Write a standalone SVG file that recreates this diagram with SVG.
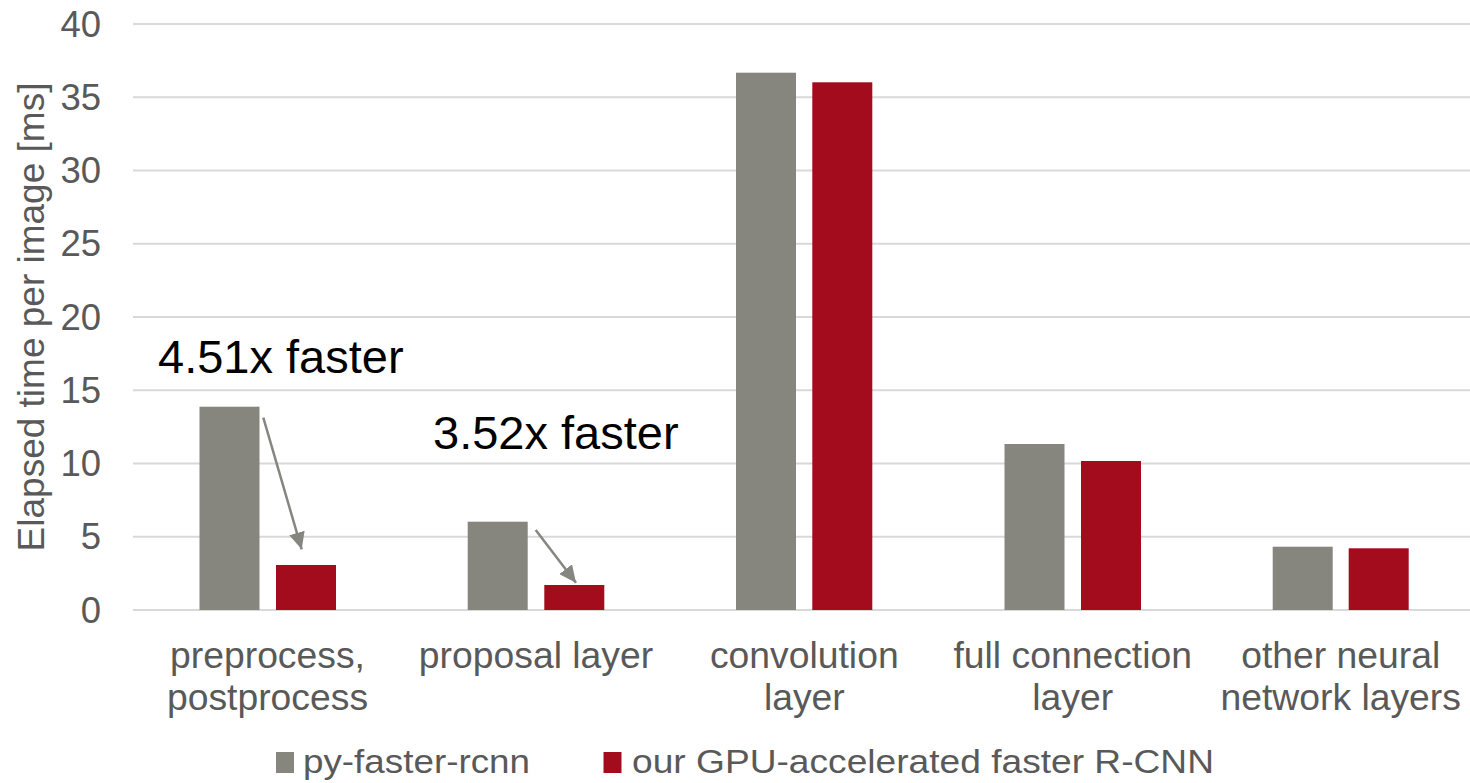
<svg xmlns="http://www.w3.org/2000/svg" width="1470" height="783" viewBox="0 0 1470 783">
<defs>
<marker id="ah" markerUnits="userSpaceOnUse" markerWidth="18" markerHeight="16" refX="17" refY="8" orient="auto">
<path d="M0,0 L17,8 L0,16 Z" fill="#868680"/>
</marker>
<style>
.grid{stroke:#d9d9d9;stroke-width:2}
.tick{font-family:"Liberation Sans",Arial,sans-serif;font-size:36.5px;fill:#595959;text-anchor:end}
.cat{font-family:"Liberation Sans",Arial,sans-serif;font-size:37.3px;fill:#595959;text-anchor:middle}
.ann{font-family:"Liberation Sans",Arial,sans-serif;font-size:47px;fill:#000}
.leg{font-family:"Liberation Sans",Arial,sans-serif;font-size:34px;fill:#595959}
.g{fill:#86867e}
.r{fill:#a30c1c}
.arr{stroke:#868680;stroke-width:2.5;fill:none;marker-end:url(#ah)}
</style>
</defs>
<rect width="1470" height="783" fill="#fff"/>
<g id="gridlines">
<line class="grid" x1="133" y1="24" x2="1470" y2="24"/>
<line class="grid" x1="133" y1="97.3" x2="1470" y2="97.3"/>
<line class="grid" x1="133" y1="170.5" x2="1470" y2="170.5"/>
<line class="grid" x1="133" y1="243.8" x2="1470" y2="243.8"/>
<line class="grid" x1="133" y1="317" x2="1470" y2="317"/>
<line class="grid" x1="133" y1="390.3" x2="1470" y2="390.3"/>
<line class="grid" x1="133" y1="463.5" x2="1470" y2="463.5"/>
<line class="grid" x1="133" y1="536.8" x2="1470" y2="536.8"/>
<line class="grid" x1="133" y1="610" x2="1470" y2="610"/>
</g>
<g id="y-axis">
<text class="tick" x="101" y="36.5">40</text>
<text class="tick" x="101" y="109.8">35</text>
<text class="tick" x="101" y="183">30</text>
<text class="tick" x="101" y="256.3">25</text>
<text class="tick" x="101" y="329.5">20</text>
<text class="tick" x="101" y="402.8">15</text>
<text class="tick" x="101" y="476">10</text>
<text class="tick" x="101" y="549.3">5</text>
<text class="tick" x="101" y="622.5">0</text>
<text id="y-title" font-family="Liberation Sans, Arial, sans-serif" font-size="37" fill="#595959" text-anchor="middle" transform="translate(44,317) rotate(-90)">Elapsed time per image [ms]</text>
</g>
<g id="bars-preprocess">
<rect class="g" x="199.5" y="406.7" width="60" height="203.3"/>
<rect class="r" x="276" y="565" width="60" height="45"/>
</g>
<g id="bars-proposal">
<rect class="g" x="467.7" y="521.7" width="60" height="88.3"/>
<rect class="r" x="544.3" y="585" width="60" height="25"/>
</g>
<g id="bars-convolution">
<rect class="g" x="736" y="72.7" width="60" height="537.3"/>
<rect class="r" x="812.3" y="82.3" width="60" height="527.7"/>
</g>
<g id="bars-full">
<rect class="g" x="1004.5" y="444" width="60" height="166"/>
<rect class="r" x="1081" y="461" width="60" height="149"/>
</g>
<g id="bars-other">
<rect class="g" x="1272.7" y="546.7" width="60" height="63.3"/>
<rect class="r" x="1348.7" y="548.3" width="60" height="61.7"/>
</g>
<g id="categories">
<text class="cat" x="267.5" y="668">preprocess,</text>
<text class="cat" x="267.5" y="710">postprocess</text>
<text class="cat" x="536" y="668">proposal layer</text>
<text class="cat" x="804.3" y="668">convolution</text>
<text class="cat" x="804.3" y="710">layer</text>
<text class="cat" x="1072.7" y="668">full connection</text>
<text class="cat" x="1072.7" y="710">layer</text>
<text class="cat" x="1340.7" y="668">other neural</text>
<text class="cat" x="1340.7" y="710">network layers</text>
</g>
<g id="annotations">
<text class="ann" x="158" y="373">4.51x faster</text>
<text class="ann" x="433" y="449">3.52x faster</text>
</g>
<g id="connectors">
<line class="arr" x1="263.3" y1="417.7" x2="301.7" y2="549.3"/>
<line class="arr" x1="535.7" y1="530" x2="576" y2="582.7"/>
</g>
<g id="legend">
<rect class="g" x="276" y="752" width="18" height="21"/>
<text class="leg" x="303" y="773" textLength="227" lengthAdjust="spacingAndGlyphs">py-faster-rcnn</text>
<rect class="r" x="603.5" y="752" width="18" height="21"/>
<text class="leg" x="632" y="773" textLength="582" lengthAdjust="spacingAndGlyphs">our GPU-accelerated faster R-CNN</text>
</g>
</svg>
